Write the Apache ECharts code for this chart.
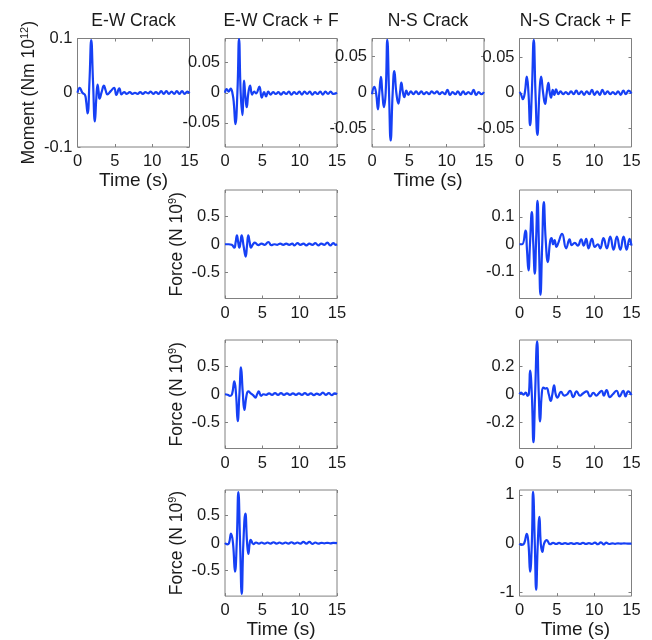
<!DOCTYPE html>
<html>
<head>
<meta charset="utf-8">
<script src="https://cdn.jsdelivr.net/npm/echarts@6/dist/echarts.min.js"></script>
<style>html,body{margin:0;padding:0;background:#fff}#main{width:652px;height:640px}</style>
</head>
<body>
<div id="main"></div>
<script>
// ---------- DATA (time s, value) ----------
const panelTitles = ['E-W Crack', 'E-W Crack + F', 'N-S Crack', 'N-S Crack + F'];
const timeTicks = [0, 5, 10, 15];

const ewMoment = [[0,0],[0.3,0.009],[0.65,0.0],[1.0,-0.004],[1.15,-0.015],[1.35,-0.038],[1.6,0.02],[1.84,0.097],[2.08,0.02],[2.33,-0.053],[2.52,-0.01],[2.69,0.015],[2.83,0.002],[2.95,-0.011],[3.25,0.002],[3.54,0.013],[3.78,0.004],[4.0,-0.003],[4.45,0.003],[4.9,0.009],[5.2,-0.004],[5.6,0.008],[5.9,-0.003],[6.25,0.001],[6.6,-0.002],[7.0,0.001],[7.35,-0.002],[7.7,0.0],[8.05,-0.002],[8.4,0.001],[8.75,-0.002],[9.1,0.001],[9.45,-0.001],[9.8,0.002],[10.15,-0.002],[10.5,0.001],[10.85,-0.002],[11.2,0.003],[11.55,-0.002],[11.9,0.003],[12.25,-0.002],[12.6,0.002],[12.95,-0.002],[13.3,0.003],[13.65,-0.002],[14.0,0.003],[14.35,-0.002],[14.7,0.002],[15,-0.001]];

const ewfMoment = [[0,0],[0.22,0.006],[0.5,0.002],[0.76,0.007],[1.03,-0.003],[1.2,-0.02],[1.39,-0.052],[1.66,0.0],[1.88,0.089],[2.1,0.0],[2.33,-0.037],[2.45,-0.005],[2.55,0.02],[2.72,-0.005],[2.91,-0.024],[3.13,0.0],[3.36,0.012],[3.63,-0.003],[3.9,0.002],[4.15,-0.001],[4.6,0.01],[4.93,-0.008],[5.24,0.001],[5.5,-0.006],[5.8,0.002],[6.1,-0.003],[6.45,0.001],[6.8,-0.002],[7.15,0.001],[7.5,-0.003],[7.85,0.001],[8.2,-0.002],[8.55,0.002],[8.9,-0.003],[9.25,0.001],[9.6,-0.002],[9.95,0.002],[10.3,-0.003],[10.65,0.002],[11.0,-0.002],[11.35,0.002],[11.7,-0.003],[12.05,0.001],[12.4,-0.002],[12.75,0.002],[13.1,-0.003],[13.45,0.002],[13.8,-0.002],[14.15,0.002],[14.5,-0.002],[15,0.0]];

const nsMoment = [[0,-0.002],[0.31,0.008],[0.54,0.0],[0.8,-0.023],[0.98,0.0],[1.2,0.022],[1.38,0.0],[1.6,-0.02],[1.83,0.0],[2.05,0.073],[2.28,0.0],[2.5,-0.066],[2.77,0.0],[2.99,0.03],[3.26,0.0],[3.53,-0.015],[3.75,0.0],[3.93,0.014],[4.15,0.0],[4.33,-0.006],[4.6,0.003],[4.87,-0.003],[5.2,0.002],[5.55,-0.002],[5.9,0.002],[6.25,-0.002],[6.6,0.002],[6.95,-0.002],[7.3,0.001],[7.65,-0.002],[8.0,0.002],[8.35,-0.001],[8.7,0.002],[9.05,-0.002],[9.4,0.001],[9.75,-0.002],[10.1,0.004],[10.45,-0.003],[10.8,0.001],[11.15,-0.002],[11.5,0.002],[11.85,-0.003],[12.2,0.002],[12.55,-0.002],[12.9,0.001],[13.25,-0.002],[13.6,0.004],[13.95,-0.003],[14.3,0.001],[14.65,-0.002],[15,0.001]];

const nsfMoment = [[0,0.001],[0.2,-0.002],[0.45,-0.009],[0.71,0.0],[0.98,0.023],[1.2,0.0],[1.42,-0.046],[1.65,0.0],[1.91,0.075],[2.14,0.0],[2.4,-0.06],[2.67,0.0],[2.89,0.023],[3.16,0.0],[3.43,-0.016],[3.65,0.0],[3.87,0.014],[4.05,0.0],[4.23,-0.007],[4.45,0.004],[4.67,-0.003],[4.9,0.005],[5.2,-0.002],[5.5,0.002],[5.85,-0.002],[6.2,0.001],[6.55,-0.002],[6.9,0.002],[7.25,-0.002],[7.6,0.003],[7.95,-0.002],[8.3,0.002],[8.65,-0.003],[9.0,0.002],[9.35,-0.002],[9.7,0.004],[10.05,-0.003],[10.4,0.002],[10.75,-0.003],[11.1,0.004],[11.45,-0.002],[11.8,0.002],[12.15,-0.002],[12.5,0.001],[12.85,-0.002],[13.2,0.002],[13.55,-0.003],[13.9,0.003],[14.25,-0.002],[14.6,0.003],[15,-0.001]];

const ewfForceA = [[0,0],[0.5,0.0],[0.9,-0.01],[1.25,-0.06],[1.42,0.03],[1.6,0.16],[1.76,0.04],[1.92,-0.06],[2.08,0.04],[2.23,0.16],[2.5,-0.04],[2.77,-0.22],[2.95,-0.02],[3.12,0.16],[3.3,0.04],[3.48,-0.06],[3.75,0.0],[4.0,0.03],[4.46,-0.015],[4.9,0.01],[5.3,-0.01],[5.8,0.04],[6.2,-0.015],[6.6,0.0],[7.0,-0.01],[7.4,0.01],[7.8,-0.01],[8.2,0.01],[8.6,-0.01],[9.0,0.01],[9.3,-0.02],[9.7,0.02],[10.1,-0.01],[10.5,0.01],[10.9,-0.02],[11.3,0.01],[11.7,-0.01],[12.1,0.02],[12.5,-0.02],[12.9,0.01],[13.3,-0.01],[13.7,0.03],[14.1,-0.02],[14.5,0.02],[14.8,-0.01],[15,0.0]];

const nsfForceA = [[0,0.0],[0.35,0.0],[0.8,0.05],[1.0,-0.02],[1.2,-0.095],[1.42,0.01],[1.65,0.117],[1.85,0.0],[2.05,-0.107],[2.23,0.02],[2.41,0.158],[2.61,-0.01],[2.81,-0.184],[3.03,-0.01],[3.26,0.154],[3.5,0.02],[3.8,-0.065],[4.1,0.01],[4.29,0.022],[4.5,0.0],[4.7,0.015],[4.95,-0.01],[5.2,0.005],[5.7,0.038],[6.25,-0.015],[6.7,0.018],[7.0,-0.003],[7.4,0.005],[7.8,-0.005],[8.26,0.018],[8.6,-0.005],[8.93,0.02],[9.25,-0.015],[9.7,0.02],[10.1,-0.01],[10.5,0.0],[10.8,-0.015],[11.25,0.022],[11.7,-0.015],[12.15,0.028],[12.6,-0.02],[13.04,0.028],[13.5,-0.02],[13.94,0.028],[14.35,-0.02],[14.74,0.02],[15,-0.005]];

const ewForceB = [[0,0],[0.35,-0.01],[0.67,-0.03],[0.94,0.0],[1.25,0.23],[1.48,0.0],[1.7,-0.48],[1.93,0.0],[2.15,0.48],[2.37,0.05],[2.6,-0.28],[2.87,-0.03],[3.13,0.05],[3.5,0.01],[3.8,-0.02],[4.07,-0.06],[4.3,0.0],[4.52,0.05],[4.84,-0.03],[5.15,0.0],[5.5,-0.01],[5.9,0.015],[6.3,-0.01],[6.7,0.02],[7.1,-0.01],[7.5,0.02],[7.9,-0.01],[8.3,0.015],[8.7,-0.01],[9.1,0.015],[9.5,-0.01],[9.9,0.015],[10.3,-0.01],[10.7,0.02],[11.1,-0.01],[11.5,0.015],[11.9,-0.015],[12.3,0.01],[12.7,-0.01],[13.1,0.03],[13.5,-0.01],[13.9,0.02],[14.3,-0.015],[14.7,0.015],[15,0.0]];

const nsForceB = [[0,0],[0.22,0.012],[0.53,-0.002],[0.85,0.012],[1.07,-0.012],[1.25,0.0],[1.42,0.167],[1.65,0.0],[1.87,-0.34],[2.09,0.0],[2.36,0.376],[2.58,0.0],[2.76,-0.193],[2.98,0.0],[3.2,0.048],[3.45,0.04],[3.65,0.043],[3.92,0.0],[4.18,-0.048],[4.4,0.0],[4.63,0.064],[4.85,0.0],[5.07,-0.024],[5.56,0.017],[6.0,-0.01],[6.4,0.0],[6.76,0.025],[7.2,-0.02],[7.65,0.02],[8.1,-0.01],[8.5,0.005],[9.0,0.02],[9.45,-0.015],[9.9,0.01],[10.3,-0.01],[10.6,0.005],[11.0,0.025],[11.3,-0.01],[11.66,0.03],[12.1,-0.02],[12.5,0.0],[13.0,0.025],[13.4,-0.015],[13.9,0.025],[14.2,-0.015],[14.55,0.02],[15,-0.005]];

const ewForceC = [[0,0],[0.31,-0.025],[0.54,0.0],[0.81,0.175],[1.07,0.0],[1.34,-0.525],[1.57,0.0],[1.79,0.93],[2.02,0.0],[2.24,-0.93],[2.46,0.0],[2.73,0.54],[2.96,0.0],[3.13,-0.2],[3.31,0.0],[3.45,0.06],[3.8,-0.02],[4.16,0.01],[4.55,-0.01],[4.9,0.01],[5.3,-0.01],[5.7,0.01],[6.1,-0.01],[6.5,0.015],[6.9,-0.01],[7.3,0.01],[7.7,-0.01],[8.1,0.01],[8.5,-0.01],[8.9,0.015],[9.3,-0.01],[9.7,0.01],[10.1,-0.01],[10.5,0.02],[10.9,-0.01],[11.3,0.02],[11.7,-0.015],[12.1,0.01],[12.5,-0.01],[12.9,0.005],[13.3,-0.005],[13.7,0.005],[14.1,-0.005],[14.5,0.003],[15,0.0]];

const nsForceC = [[0,0],[0.31,-0.03],[0.62,0.0],[0.98,0.2],[1.2,0.0],[1.42,-0.58],[1.65,0.0],[1.82,1.06],[2.05,0.0],[2.23,-0.95],[2.45,0.0],[2.67,0.55],[2.85,0.0],[3.07,-0.17],[3.29,0.0],[3.65,0.07],[4.1,-0.015],[4.5,0.015],[4.9,-0.01],[5.3,0.012],[5.7,-0.01],[6.1,0.01],[6.5,-0.01],[6.9,0.01],[7.3,-0.01],[7.7,0.01],[8.1,-0.01],[8.5,0.015],[8.9,-0.01],[9.3,0.01],[9.7,-0.01],[10.1,0.02],[10.5,-0.015],[10.9,0.025],[11.3,-0.02],[11.6,0.02],[12.0,-0.01],[12.4,0.005],[12.8,-0.005],[13.2,0.005],[13.6,-0.003],[14.0,0.003],[14.5,-0.002],[15,0.0]];

// y ranges and tick labels per panel
const yTicksA = [-0.1, 0, 0.1];
const yTicksB = [-0.05, 0, 0.05];
const yTicksC = [-0.5, 0, 0.5];
const yTicksD = [-0.1, 0, 0.1];
const yTicksE = [-0.2, 0, 0.2];
const yTicksF = [-1, 0, 1];
const yLimits = [[-0.1,0.1],[-0.09,0.09],[-0.075,0.075],[-0.077,0.077],[-0.97,0.97],[-0.198,0.198],[-0.97,0.97],[-0.385,0.385],[-0.97,0.97],[-1.08,1.1]];

// ---------- LAYOUT ----------
const colLeft = [77.5, 225, 372, 519.5];
const rowTop = [38.5, 190, 340, 490];
const PW = 112, PH = 108.5;
const FONT = 'Liberation Sans, Arial, sans-serif';
const LINE = '#1640f5';
const EDGE = '#808080';
const TXT = '#1a1a1a';

const panels = [
  {r:0,c:0,data:ewMoment,lim:yLimits[0],ticks:yTicksA,yName:'moment',xName:true},
  {r:0,c:1,data:ewfMoment,lim:yLimits[1],ticks:yTicksB},
  {r:0,c:2,data:nsMoment,lim:yLimits[2],ticks:yTicksB,xName:true},
  {r:0,c:3,data:nsfMoment,lim:yLimits[3],ticks:yTicksB},
  {r:1,c:1,data:ewfForceA,lim:yLimits[4],ticks:yTicksC,yName:'force'},
  {r:1,c:3,data:nsfForceA,lim:yLimits[5],ticks:yTicksD},
  {r:2,c:1,data:ewForceB,lim:yLimits[6],ticks:yTicksC,yName:'force'},
  {r:2,c:3,data:nsForceB,lim:yLimits[7],ticks:yTicksE},
  {r:3,c:1,data:ewForceC,lim:yLimits[8],ticks:yTicksC,yName:'force',xName:true},
  {r:3,c:3,data:nsForceC,lim:yLimits[9],ticks:yTicksF,xName:true}
];

const yNames = {
  moment: '{a|Moment (Nm 10}{s|12}{a|)}',
  force: '{a|Force (N 10}{s|9}{a|)}'
};
const nameRich = {
  a: {fontSize: 17.5, fontFamily: FONT, color: TXT, lineHeight: 20},
  s: {fontSize: 11, fontFamily: FONT, color: TXT, lineHeight: 11, verticalAlign: 'top'}
};

const grid = [], xAxis = [], yAxis = [], series = [];
panels.forEach((p, i) => {
  grid.push({left: colLeft[p.c], top: rowTop[p.r], width: PW, height: PH,
    show: true, borderColor: EDGE, borderWidth: 1, backgroundColor: '#fff'});
  const tickStyle = {inside: true, length: 3, lineStyle: {color: EDGE, width: 1}, customValues: timeTicks};
  const xBase = {gridIndex: i, type: 'value', min: 0, max: 15, interval: 5,
    axisLine: {show: false, onZero: false}, splitLine: {show: false}, axisTick: tickStyle};
  xAxis.push(Object.assign({}, xBase, {position: 'bottom',
    axisLabel: {margin: 6, fontSize: 16.5, fontFamily: FONT, color: TXT, customValues: timeTicks},
    name: p.xName ? 'Time (s)' : '', nameLocation: 'middle', nameGap: 23,
    nameTextStyle: {fontSize: 19, fontFamily: FONT, color: TXT}}));
  xAxis.push(Object.assign({}, xBase, {position: 'top', axisLabel: {show: false}}));
  const yTick = {inside: true, length: 3, lineStyle: {color: EDGE, width: 1}, customValues: p.ticks};
  const yBase = {gridIndex: i, type: 'value', min: p.lim[0], max: p.lim[1],
    axisLine: {show: false, onZero: false}, splitLine: {show: false}, axisTick: yTick};
  yAxis.push(Object.assign({}, yBase, {position: 'left',
    axisLabel: {margin: 5, fontSize: 16.5, fontFamily: FONT, color: TXT, customValues: p.ticks,
      formatter: v => String(Math.round(v * 1000) / 1000)},
    name: p.yName ? yNames[p.yName] : '', nameLocation: 'middle', nameRotate: 90, nameGap: 38,
    nameTextStyle: {rich: nameRich}}));
  yAxis.push(Object.assign({}, yBase, {position: 'right', axisLabel: {show: false}}));
  series.push({type: 'line', xAxisIndex: 2 * i, yAxisIndex: 2 * i, data: p.data,
    smooth: 0.5, showSymbol: false, symbol: 'none', animation: false,
    lineStyle: {color: LINE, width: 2.2}});
});

const graphic = panelTitles.map((t, c) => ({
  type: 'text', x: colLeft[c] + PW / 2, y: 21,
  style: {text: t, align: 'center', verticalAlign: 'middle', font: '17.5px ' + FONT, fill: TXT}
}));

const chart = echarts.init(document.getElementById('main'), null, {renderer: 'canvas'});
chart.setOption({animation: false, grid, xAxis, yAxis, series, graphic});
</script>
</body>
</html>
